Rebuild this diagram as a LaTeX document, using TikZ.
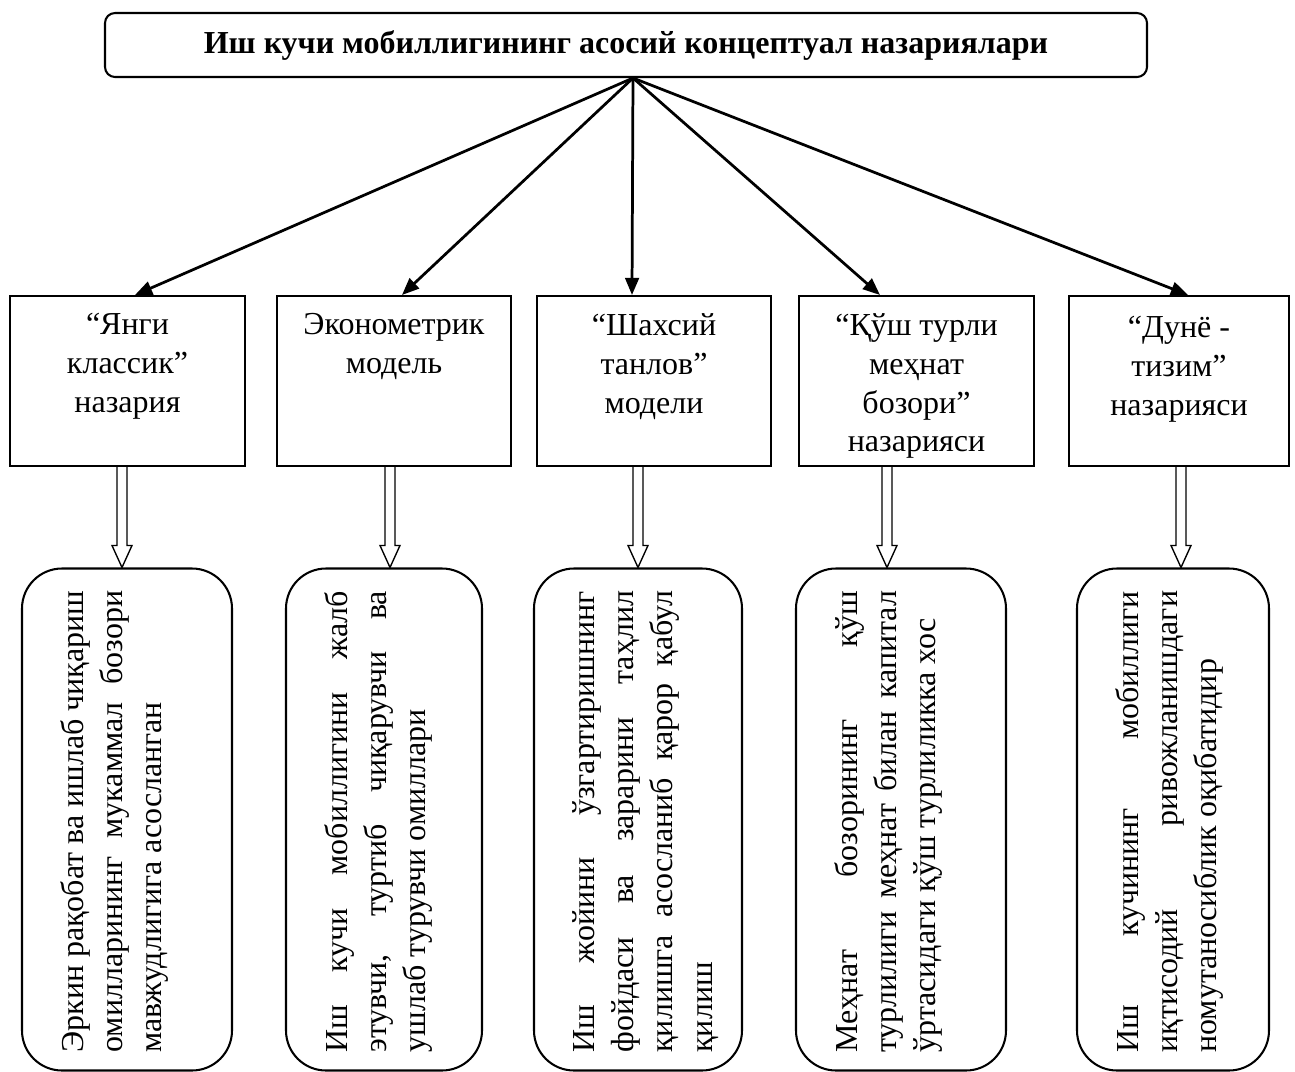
\documentclass[tikz,border=0pt]{standalone}
\usepackage{fontspec}
\setmainfont{Liberation Serif}
\usetikzlibrary{positioning,calc,arrows.meta}

\newcommand\pxu{0.4375pt}
\newcommand\fatarrow[2]{%
  \draw[fat] ($(#1)+(-5,0)$) -- ($(#2)+(-5,-22)$) -- ($(#2)+(-10,-22)$) -- (#2)
    -- ($(#2)+(10,-22)$) -- ($(#2)+(5,-22)$) -- ($(#1)+(5,0)$);}

\tikzset{
  head/.style={draw, line width=0.9pt, rounded corners=10*\pxu,
    minimum width=1042*\pxu, minimum height=64*\pxu,
    font=\fontsize{14}{16.4}\selectfont\bfseries},
  theory/.style={draw, line width=0.9pt, minimum height=170*\pxu},
  theorytxt/.style={anchor=north, align=center, inner sep=0pt,
    font=\fontsize{14}{17}\selectfont},
  factbox/.style={draw, line width=0.9pt, rounded corners=40*\pxu,
    minimum height=502*\pxu},
  facttxt/.style={rotate=90, anchor=north west, inner sep=0pt,
    text width=202pt, align=justify,
    font=\fontsize{14}{17.2}\selectfont,
    execute at begin node={\tolerance=10000\relax\hyphenpenalty=10000\relax}},
  link/.style={-{Triangle[length=7.5pt,width=6pt]}, line width=1.2pt},
  fat/.style={line width=0.6pt}
}

\begin{document}
\begin{tikzpicture}[x=\pxu, y=-\pxu]
\useasboundingbox (0,0) rectangle (1295,1072);

% title
\node[head] (top) at (626,45) {Иш кучи мобиллигининг асосий концептуал назариялари};

% theories
\node[theory, minimum width=235*\pxu] (m1) at (127.5,381) {};
\node[theory, minimum width=234*\pxu] (m2) at (394,381) {};
\node[theory, minimum width=234*\pxu] (m3) at (654,381) {};
\node[theory, minimum width=235*\pxu] (m4) at (916.5,381) {};
\node[theory, minimum width=220*\pxu] (m5) at (1179,381) {};

\node[theorytxt] (m1t) at ([shift={(0,18)}]m1.north) {“Янги\\классик”\\назария};
\node[theorytxt] (m2t) at ([shift={(0,18)}]m2.north) {Эконометрик\\модель};
\node[theorytxt] (m3t) at ([shift={(0,18)}]m3.north) {“Шахсий\\танлов”\\модели};
\node[theorytxt] (m4t) at ([shift={(0,18)}]m4.north) {“Қўш турли\\меҳнат\\бозори”\\назарияси};
\node[theorytxt] (m5t) at ([shift={(0,21)}]m5.north) {“Дунё -\\тизим”\\назарияси};

\draw[link] ([shift={(7,0)}]top.south) -- ([shift={(7.5,0)}]m1.north);
\draw[link] ([shift={(7,0)}]top.south) -- ([shift={(8,0)}]m2.north);
\draw[link] ([shift={(7,0)}]top.south) -- ([shift={(-22,0)}]m3.north);
\draw[link] ([shift={(7,0)}]top.south) -- ([shift={(-36.5,0)}]m4.north);
\draw[link] ([shift={(7,0)}]top.south) -- ([shift={(9,0)}]m5.north);

% facts
\node[factbox, minimum width=210*\pxu] (f1) at (127,819.5) {};
\node[factbox, minimum width=196*\pxu] (f2) at (384,819.5) {};
\node[factbox, minimum width=208*\pxu] (f3) at (638,819.5) {};
\node[factbox, minimum width=210*\pxu] (f4) at (901,819.5) {};
\node[factbox, minimum width=192*\pxu] (f5) at (1173,819.5) {};

\node[facttxt] (f1t) at ([shift={(39,-18.5)}]f1.south west)
  {Эркин рақобат ва ишлаб чиқариш\linebreak омилларининг мукаммал бозори\linebreak мавжудлигига асосланган};
\node[facttxt] (f2t) at ([shift={(39,-18.5)}]f2.south west)
  {Иш кучи мобиллигини жалб\linebreak этувчи, туртиб чиқарувчи ва\linebreak ушлаб турувчи омиллари};
\node[facttxt] (f3t) at ([shift={(39,-18.5)}]f3.south west)
  {Иш жойини ўзгартиришнинг\linebreak фойдаси ва зарарини таҳлил\linebreak қилишга асосланиб қарор қабул\linebreak қилиш};
\node[facttxt] (f4t) at ([shift={(39,-18.5)}]f4.south west)
  {Меҳнат бозорининг қўш\linebreak турлилиги меҳнат билан капитал\linebreak ўртасидаги қўш турлиликка хос};
\node[facttxt] (f5t) at ([shift={(39,-18.5)}]f5.south west)
  {Иш кучининг мобиллиги\linebreak иқтисодий ривожланишдаги\linebreak номутаносиблик оқибатидир};

% hollow arrows
\coordinate (s1) at ([shift={(-5.5,0)}]m1.south);
\coordinate (s2) at ([shift={(-4,0)}]m2.south);
\coordinate (s3) at ([shift={(-16,0)}]m3.south);
\coordinate (s4) at ([shift={(-29.5,0)}]m4.south);
\coordinate (s5) at ([shift={(2,0)}]m5.south);
\fatarrow{s1}{s1 |- f1.north}
\fatarrow{s2}{s2 |- f2.north}
\fatarrow{s3}{s3 |- f3.north}
\fatarrow{s4}{s4 |- f4.north}
\fatarrow{s5}{s5 |- f5.north}
\end{tikzpicture}
\end{document}
